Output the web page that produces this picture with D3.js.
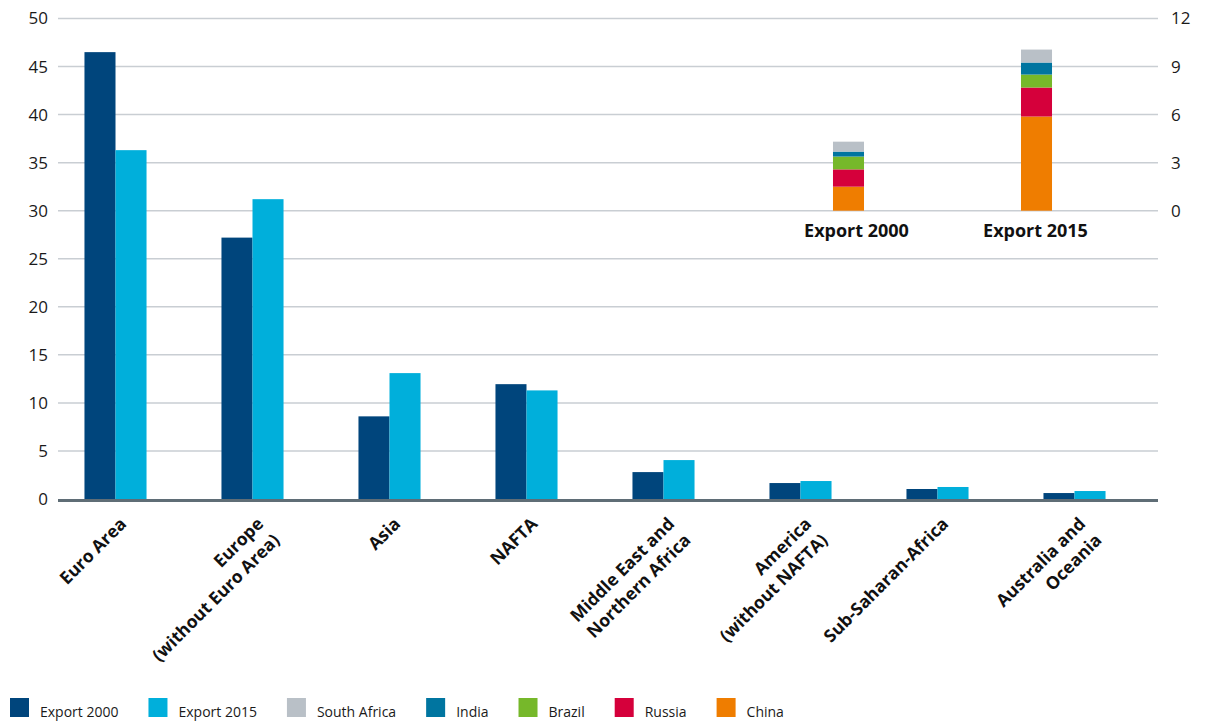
<!DOCTYPE html>
<html>
<head>
<meta charset="utf-8">
<script src="https://cdn.jsdelivr.net/npm/d3@7"></script>
<style>
  html, body { margin: 0; padding: 0; background: #fff; }
  svg { display: block; font-family: "Open Sans", "Noto Sans", sans-serif; }
</style>
</head>
<body>
<svg id="chart" width="1205" height="724"></svg>
<script>
// ---- data ----
const categories = [
  ["Euro Area"],
  ["Europe", "(without Euro Area)"],
  ["Asia"],
  ["NAFTA"],
  ["Middle East and", "Northern Africa"],
  ["America", "(without NAFTA)"],
  ["Sub-Saharan-Africa"],
  ["Australia and", "Oceania"]
];
const export2000 = [46.5, 27.2, 8.6, 11.95, 2.8, 1.66, 1.04, 0.62];
const export2015 = [36.3, 31.2, 13.1, 11.3, 4.05, 1.87, 1.25, 0.83];
const leftTicks = [0, 5, 10, 15, 20, 25, 30, 35, 40, 45, 50];
const rightTicks = [0, 3, 6, 9, 12];

const insetGroups = ["Export 2000", "Export 2015"];
const brics = ["China", "Russia", "Brazil", "India", "South Africa"];
const bricsValues = {
  "China":        [1.5, 5.88],
  "Russia":       [1.08, 1.81],
  "Brazil":       [0.8, 0.81],
  "India":        [0.31, 0.75],
  "South Africa": [0.62, 0.81]
};
const legendLabels = ["Export 2000", "Export 2015", "South Africa", "India", "Brazil", "Russia", "China"];

// ---- styles ----
const colors = {
  "Export 2000": "#00457c",
  "Export 2015": "#00afdb",
  "South Africa": "#b9c0c7",
  "India": "#0075a0",
  "Brazil": "#76b82a",
  "Russia": "#d5003b",
  "China": "#ef7d00"
};

const svg = d3.select("#chart");
const gridX0 = 58, gridX1 = 1158;

const y = d3.scaleLinear().domain([0, 50]).range([499, 18.5]);
const yR = d3.scaleLinear().domain([0, 12]).range([y(30), y(50)]);

const catKeys = categories.map(c => c.join(" "));
const x0 = d3.scaleBand().domain(catKeys).range([47, 1143])
  .paddingInner(0.547).paddingOuter(0.2735);
const x1 = d3.scaleBand().domain(["Export 2000", "Export 2015"]).range([0, x0.bandwidth()]);

// gridlines
svg.append("g").selectAll("line").data(leftTicks.filter(t => t > 0)).join("line")
  .attr("x1", gridX0).attr("x2", gridX1)
  .attr("y1", d => y(d)).attr("y2", d => y(d))
  .attr("stroke", "#c9ced3").attr("stroke-width", 1.5);

// left axis labels
const leftAxis = d3.axisLeft(y).tickValues(leftTicks).tickSize(0).tickPadding(0);
const gL = svg.append("g").attr("transform", "translate(48,0)").call(leftAxis);
gL.select(".domain").remove();
gL.selectAll("text").attr("font-size", 17).attr("fill", "#1a1a1a")
  .attr("font-family", "'Open Sans', sans-serif");

// right axis labels
const rightAxis = d3.axisRight(yR).tickValues(rightTicks).tickSize(0).tickPadding(0);
const gR = svg.append("g").attr("transform", "translate(1171,0)").call(rightAxis);
gR.select(".domain").remove();
gR.selectAll("text").attr("font-size", 17).attr("fill", "#1a1a1a")
  .attr("font-family", "'Open Sans', sans-serif");

// main bars
const groups = svg.append("g").selectAll("g").data(catKeys).join("g")
  .attr("transform", d => `translate(${x0(d)},0)`);
groups.append("rect")
  .attr("x", x1("Export 2000")).attr("width", x1.bandwidth())
  .attr("y", (d, i) => y(export2000[i])).attr("height", (d, i) => y(0) - y(export2000[i]))
  .attr("fill", colors["Export 2000"]);
groups.append("rect")
  .attr("x", x1("Export 2015")).attr("width", x1.bandwidth())
  .attr("y", (d, i) => y(export2015[i])).attr("height", (d, i) => y(0) - y(export2015[i]))
  .attr("fill", colors["Export 2015"]);

// baseline
svg.append("line").attr("x1", gridX0).attr("x2", gridX1)
  .attr("y1", y(0) + 1.5).attr("y2", y(0) + 1.5)
  .attr("stroke", "#5f6d76").attr("stroke-width", 3);

// x labels
const xl = svg.append("g").selectAll("text").data(categories).join("text")
  .attr("transform", (d, i) => `translate(${x0(catKeys[i]) + x0.bandwidth() / 2 + 12},${y(0) + 26}) rotate(-45)`)
  .attr("text-anchor", "end")
  .attr("font-size", 17.5).attr("font-weight", 700).attr("fill", "#111");
xl.selectAll("tspan").data(d => d).join("tspan")
  .attr("x", 0).attr("dy", (d, i) => i === 0 ? 0 : 23).text(d => d);

// inset stacked bars
const xi = d3.scaleBand().domain(insetGroups).range([676, 1209]).padding(0.835);
const stackData = insetGroups.map((g, gi) => {
  const o = { group: g };
  brics.forEach(b => o[b] = bricsValues[b][gi]);
  return o;
});
const stacked = d3.stack().keys(brics)(stackData);
svg.append("g").selectAll("g").data(stacked).join("g")
  .attr("fill", d => colors[d.key])
  .selectAll("rect").data(d => d).join("rect")
  .attr("x", d => xi(d.data.group)).attr("width", xi.bandwidth())
  .attr("y", d => yR(d[1])).attr("height", d => yR(d[0]) - yR(d[1]));

svg.append("g").selectAll("text").data(insetGroups).join("text")
  .attr("x", d => xi(d) + xi.bandwidth() / 2 + (d === "Export 2000" ? 8 : -1))
  .attr("y", 237)
  .attr("text-anchor", "middle")
  .attr("font-size", 18).attr("font-weight", 700).attr("fill", "#111")
  .text(d => d);

// legend
const leg = svg.append("g");
let lx = 10;
legendLabels.forEach(lbl => {
  leg.append("rect").attr("x", lx).attr("y", 698).attr("width", 19).attr("height", 19)
    .attr("fill", colors[lbl]);
  const t = leg.append("text").attr("x", lx + 30).attr("y", 717)
    .attr("font-size", 14).attr("fill", "#1a1a1a").text(lbl);
  lx += 30 + t.node().getComputedTextLength() + 30;
});
</script>
</body>
</html>
